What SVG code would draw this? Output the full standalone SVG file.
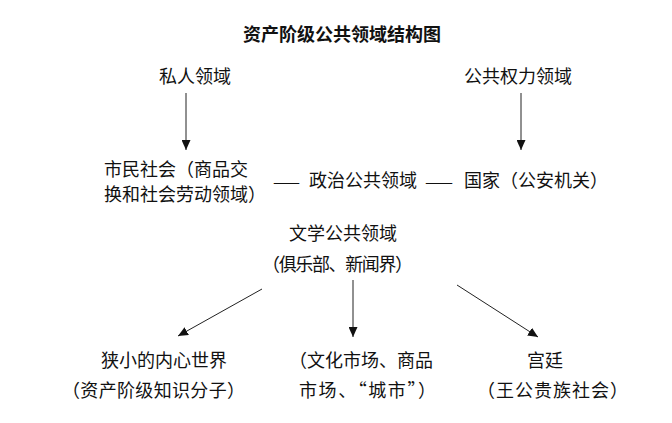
<svg xmlns="http://www.w3.org/2000/svg" width="672" height="423" viewBox="0 0 672 423">
<style>
text{font-family:"Noto Sans CJK SC","Noto Sans CJK JP",sans-serif;font-size:18px;fill:#111}
.title{font-weight:bold}
.dash{font-size:14px}
.conn line{stroke:#222;stroke-width:1}
</style>
<defs>
<marker id="ah" markerUnits="userSpaceOnUse" markerWidth="10" markerHeight="9" refX="10" refY="4.5" orient="auto">
<path d="M0,0 L10,4.5 L0,9 z" fill="#111"/>
</marker>
</defs>
<rect width="672" height="423" fill="#fff"/>
<g id="title"><text class="title" x="243" y="41">资产阶级公共领域结构图</text></g>
<g id="private"><text x="159" y="83">私人领域</text></g>
<g id="publicpower"><text x="464" y="83">公共权力领域</text></g>
<g id="civil"><text x="104" y="176">市民社会（商品交</text><text x="104" y="201">换和社会劳动领域）</text></g>
<g id="political"><text class="dash" x="273" y="187" textLength="27" lengthAdjust="spacingAndGlyphs">——</text><text x="309" y="187">政治公共领域</text><text class="dash" x="425" y="187" textLength="28" lengthAdjust="spacingAndGlyphs">——</text></g>
<g id="state"><text x="464" y="187">国家（公安机关）</text></g>
<g id="literary"><text x="289" y="240">文学公共领域</text><text x="262" y="271" textLength="151">（俱乐部、新闻界）</text></g>
<g id="inner"><text x="101" y="367">狭小的内心世界</text><text x="62" y="397" textLength="183">（资产阶级知识分子）</text></g>
<g id="market"><text x="289" y="367">（文化市场、商品</text><text x="299" y="397" textLength="137">市场、“城市”）</text></g>
<g id="court"><text x="527" y="367">宫廷</text><text x="477" y="397" textLength="151">（王公贵族社会）</text></g>
<g class="conn" id="connectors">
<line x1="186" y1="93" x2="186" y2="150" marker-end="url(#ah)"/>
<line x1="521" y1="93" x2="521" y2="150" marker-end="url(#ah)"/>
<line x1="262" y1="289" x2="178" y2="336" marker-end="url(#ah)"/>
<line x1="353" y1="280" x2="353" y2="337" marker-end="url(#ah)"/>
<line x1="457" y1="285" x2="538" y2="337" marker-end="url(#ah)"/>
</g>
</svg>
